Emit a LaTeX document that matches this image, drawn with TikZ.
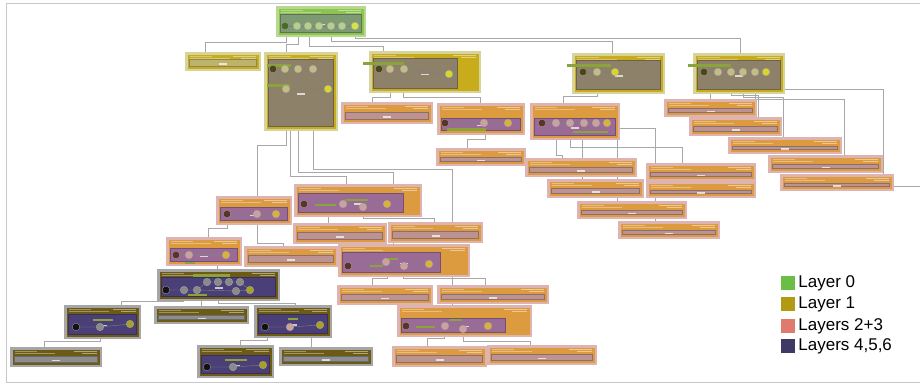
\documentclass[tikz,border=0pt]{standalone}
\usepackage{fontspec}
\setmainfont{Liberation Sans}
\usetikzlibrary{positioning,backgrounds}

\definecolor{gHalo}{HTML}{B7D88E}
\definecolor{gBody}{HTML}{8DC44F}
\definecolor{gPanel}{HTML}{7E9A72}
\definecolor{yHalo}{HTML}{D6D49B}
\definecolor{yBody}{HTML}{C8AC1C}
\definecolor{yPanel}{HTML}{8D8169}
\definecolor{yFlat}{HTML}{BDB36C}
\definecolor{pHalo}{HTML}{DEB3B0}
\definecolor{pBody}{HTML}{DB9B3E}
\definecolor{pFlat}{HTML}{BC9390}
\definecolor{pPurp}{HTML}{9B6B98}
\definecolor{nHalo}{HTML}{A6A6A6}
\definecolor{nBody}{HTML}{6D5B15}
\definecolor{nPanel}{HTML}{4B3F78}
\definecolor{nFlat}{HTML}{8D8D8D}
\definecolor{gDot1}{HTML}{4E6A22}
\definecolor{gDot2}{HTML}{B7CF8A}
\definecolor{gDot3}{HTML}{D6E24C}
\definecolor{yDot1}{HTML}{4C4718}
\definecolor{yDot2}{HTML}{C4BC85}
\definecolor{yDot3}{HTML}{D9D52B}
\definecolor{pDot1}{HTML}{5A3329}
\definecolor{pDot2}{HTML}{CBA19D}
\definecolor{pDot3}{HTML}{D8B23A}
\definecolor{nDot1}{HTML}{121212}
\definecolor{nDot2}{HTML}{8A8A8A}
\definecolor{nDot3}{HTML}{A8A222}
\definecolor{barC}{HTML}{8AA33A}
\definecolor{wireC}{HTML}{A8A8A8}
\definecolor{frameC}{HTML}{C8C8C8}
\definecolor{leg0}{HTML}{6BBE45}
\definecolor{leg1}{HTML}{B29B13}
\definecolor{leg2}{HTML}{E07A6F}
\definecolor{leg3}{HTML}{3E3A65}

\tikzset{
  wire/.style={draw=wireC, line width=.7pt},
  link/.style={draw=black!50, line width=.4pt},
  circ/.style={circle, inner sep=0pt, minimum size=7.6pt, draw=black!35, line width=.3pt},
  gbar/.style={fill=barC},
  key/.style={minimum size=15pt, inner sep=0pt, draw=white},
  keytext/.style={inner sep=0pt, font=\fontsize{17}{19}\selectfont},
}

% name, x1, y1, x2, y2, layer letter, panel colour, panel top, panel right inset
\newcommand{\layerbox}[9]{%
  \node[anchor=north west, inner sep=0pt, outer sep=0pt, fill=#6Halo,
        minimum width={(#4-#2)*1pt}, minimum height={(#5-#3)*1pt}] (#1) at (#2,#3) {};
  \fill[#6Body] (#2+2.5,#3+2.5) rectangle (#4-2.5,#5-2.5);
  \fill[#7, draw=#7!75!black, line width=.5pt] (#2+4.5,#3+#8) rectangle (#4-#9,#5-4.5);
  \fill[white, opacity=.35] (#2+5,#3+3.5) rectangle ++(22,1.2);
  \fill[white, opacity=.35] (#2+5,#3+5.8) rectangle ++(40,1);
  \fill[white, opacity=.45] (#4-28,#3+3.5) rectangle (#4-5,#3+4.8);
  \fill[white, opacity=.45] (#4-20,#3+6) rectangle (#4-5,#3+7.2);
  \fill[white, opacity=.7] ({(#2+#4)/2-4},{(#3+#8+#5)/2-2}) rectangle ++(8,1.6);
}

\begin{document}
\begin{tikzpicture}[x=1pt, y=-1pt]
\useasboundingbox (0,0) rectangle (920,384);

% layer 0
\layerbox{G0}{276}{6}{366}{37}{g}{gPanel}{8}{4.5}
% layer 1
\layerbox{Y1}{185}{52}{261}{71}{y}{yFlat}{7.5}{4.5}
\layerbox{Y2}{264}{52}{338}{131}{y}{yPanel}{7.5}{4.5}
\layerbox{Y3}{369}{51}{481}{93}{y}{yPanel}{7.5}{24}
\layerbox{Y4}{572}{53}{665}{94}{y}{yPanel}{7.5}{4.5}
\layerbox{Y5}{693}{53}{785}{94}{y}{yPanel}{7.5}{4.5}
% layers 2+3
\layerbox{P1}{341}{102}{433}{124}{p}{pFlat}{10}{4.5}
\layerbox{P2}{437}{103}{525}{135}{p}{pPurp}{15}{4.5}
\layerbox{P3}{530}{103}{620}{140}{p}{pPurp}{15}{4.5}
\layerbox{P4}{436}{148}{526}{166}{p}{pFlat}{9}{4.5}
\layerbox{P11}{664}{99}{757}{117}{p}{pFlat}{9}{4.5}
\layerbox{P12}{689}{117}{782}{136}{p}{pFlat}{9}{4.5}
\layerbox{P13}{728}{137}{842}{154}{p}{pFlat}{9}{4.5}
\layerbox{P14}{768}{155}{883}{173}{p}{pFlat}{9}{4.5}
\layerbox{P15}{780}{174}{894}{191}{p}{pFlat}{9}{4.5}
\layerbox{P5}{525}{158}{637}{177}{p}{pFlat}{9}{4.5}
\layerbox{P9}{646}{163}{756}{181}{p}{pFlat}{9}{4.5}
\layerbox{P10}{646}{181}{756}{198}{p}{pFlat}{9}{4.5}
\layerbox{P6}{547}{179}{644}{198}{p}{pFlat}{9}{4.5}
\layerbox{P7}{577}{201}{687}{219}{p}{pFlat}{9}{4.5}
\layerbox{P8}{618}{221}{720}{239}{p}{pFlat}{9}{4.5}
\layerbox{P16}{216}{196}{292}{225}{p}{pPurp}{11}{4.5}
\layerbox{P17}{294}{184}{422}{217}{p}{pPurp}{9}{19}
\layerbox{P18}{293}{223}{387}{244}{p}{pFlat}{9}{4.5}
\layerbox{P19}{388}{222}{483}{243}{p}{pFlat}{9}{4.5}
\layerbox{P20}{166}{237}{242}{266}{p}{pPurp}{11}{4.5}
\layerbox{P21}{244}{246}{338}{267}{p}{pFlat}{9}{4.5}
\layerbox{P22}{338}{244}{470}{277}{p}{pPurp}{8}{30}
\layerbox{P23}{337}{285}{433}{305}{p}{pFlat}{9}{4.5}
\layerbox{P24}{437}{285}{549}{304}{p}{pFlat}{9}{4.5}
\layerbox{P25}{397}{305}{532}{337}{p}{pPurp}{13}{27}
\layerbox{P26}{392}{346}{487}{367}{p}{pFlat}{9}{4.5}
\layerbox{P27}{487}{345}{597}{365}{p}{pFlat}{9}{4.5}
% layers 4,5,6
\layerbox{D1}{157}{269}{280}{301}{n}{nPanel}{8}{4.5}
\layerbox{D2}{64}{305}{141}{339}{n}{nPanel}{9}{4.5}
\layerbox{D3}{154}{306}{249}{324}{n}{nFlat}{9}{4.5}
\layerbox{D4}{254}{305}{332}{338}{n}{nPanel}{9}{4.5}
\layerbox{D5}{10}{347}{102}{367}{n}{nFlat}{9}{4.5}
\layerbox{D6}{197}{345}{274}{378}{n}{nPanel}{10}{4.5}
\layerbox{D7}{279}{347}{373}{366}{n}{nFlat}{9}{4.5}

% edges inside the boxes
\draw[link] (285,26) -- (355,26);
\draw[link] (273,69) -- (313,69) -- (328,89) -- (286,89) -- (273,69);
\draw[link] (379,69) -- (404,69) -- (449,74);
\draw[link] (583,72) -- (615,72);
\draw[link] (704,72) -- (766,72);
\draw[link] (445,123) -- (508,123);
\draw[link] (542,123) -- (607,123);
\draw[link] (227,214) -- (276,214);
\draw[link] (304,204) -- (343,204) -- (363,207) -- (387,204);
\draw[link] (176,255) -- (226,255);
\draw[link] (348,266) -- (386,262) -- (404,266) -- (429,264);
\draw[link] (406,326) -- (445,326) -- (463,329) -- (488,326);
\draw[link] (166,290) -- (197,290) -- (207,282) -- (240,282) -- (250,290) -- (236,291) -- (197,290);
\draw[link] (76,327) -- (100,327) -- (130,324);
\draw[link] (265,327) -- (290,327) -- (320,325);
\draw[link] (207,367) -- (233,367) -- (263,365);

% green labels
\foreach \ax/\ay/\bx/\by in {267/64/291/66.5, 267/84/290/86.5, 363/62/404/65,
  567/64/611/67, 688/64/731/67, 447/128/486/130.5, 573/131/608/133,
  315/204/336/206, 345/199/368/201, 185/262/195/264, 370/265/383/267,
  384/258/398/260, 416/326/435/328, 449/319/462/321, 193/274/230/277,
  188/294/207/296, 93/319/113/321, 288/318/298/320, 225/359/247/361}
  \fill[gbar] (\ax,\ay) rectangle (\bx,\by);

% circles
\foreach \cx/\cy/\cc in {285/26/gDot1, 297/26/gDot2, 308/26/gDot2, 319/26/gDot2,
  331/26/gDot2, 342/26/gDot2, 355/26/gDot3,
  273/69/yDot1, 285/69/yDot2, 298/69/yDot2, 313/69/yDot2, 286/89/yDot2, 328/89/yDot3,
  379/69/yDot1, 390/69/yDot2, 404/69/yDot2, 449/74/yDot3,
  583/72/yDot1, 597/72/yDot2, 615/72/yDot3,
  704/72/yDot1, 718/72/yDot2, 731/72/yDot2, 743/72/yDot2, 755/72/yDot2, 766/72/yDot3,
  445/123/pDot1, 484/123/pDot2, 508/123/pDot3,
  542/123/pDot1, 556/123/pDot2, 570/123/pDot2, 584/123/pDot2, 596/123/pDot2, 607/123/pDot3,
  227/214/pDot1, 257/214/pDot2, 276/214/pDot3,
  304/204/pDot1, 343/204/pDot2, 363/207/pDot2, 387/204/pDot3,
  176/255/pDot1, 189/255/pDot2, 226/255/pDot3,
  348/266/pDot1, 386/262/pDot2, 404/266/pDot2, 429/264/pDot3,
  406/326/pDot1, 445/326/pDot2, 463/329/pDot2, 488/326/pDot3,
  166/290/nDot1, 184/290/nDot2, 197/290/nDot2, 207/282/nDot2, 218/282/nDot2,
  229/282/nDot2, 240/282/nDot2, 236/291/nDot2, 250/290/nDot3,
  76/327/nDot1, 100/327/nDot2, 130/324/nDot3,
  265/327/nDot1, 290/327/pDot2, 320/325/nDot3,
  207/367/nDot1, 233/367/nDot2, 263/365/nDot3}
  \node[circ, fill=\cc] at (\cx,\cy) {};

% legend
\node[key, fill=leg0] (k0) at (787.5,283) {};
\node[keytext, right=3pt of k0] {Layer 0};
\node[key, fill=leg1] (k1) at (787.5,304) {};
\node[keytext, right=3pt of k1] {Layer 1};
\node[key, fill=leg2] (k2) at (787.5,326) {};
\node[keytext, right=3pt of k2] {Layers 2+3};
\node[key, fill=leg3] (k3) at (787.5,346) {};
\node[keytext, right=3pt of k3] {Layers 4,5,6};

\coordinate (out) at (920,186);

\begin{scope}[on background layer]
  \draw[draw=frameC, line width=1.2pt] (920,3.5) -- (6.5,3.5) -- (6.5,382.5) -- (920,382.5);
  % from layer 0
  \draw[wire] (G0.south -| 286,0) -- ++(0,5) -| (Y1.north -| 205,0);
  \draw[wire] (G0.south -| 298,0) -- ++(0,7) -| (Y2.north -| 286,0);
  \draw[wire] (G0.south -| 309,0) -- ++(0,9) -| (Y3.north -| 383,0);
  \draw[wire] (G0.south -| 331,0) -- ++(0,4) -| (Y4.north -| 612,0);
  \draw[wire] (G0.south -| 355,0) -- ++(0,1) -| (Y5.north -| 740,0);
  % from layer 1
  \draw[wire] (Y3.south -| 390,0) -- ++(0,4) -| (P1.north -| 372,0);
  \draw[wire] (Y3.south -| 403,0) -- ++(0,4) -| (P2.north -| 480,0);
  \draw[wire] (Y4.south -| 597,0) -- ++(0,2) -| (P3.north -| 563,0);
  \draw[wire] (Y5.south -| 710,0) -- (P11.north -| 710,0);
  \draw[wire] (Y5.south -| 731,0) -- ++(0,1) -| (P12.north -| 758,0);
  \draw[wire] (Y5.south -| 743,0) -- ++(0,3) -| (P13.north -| 783,0);
  \draw[wire] (Y5.south -| 755,0) -- ++(0,5) -| (P14.north -| 844,0);
  \draw[wire] (Y5.east |- 0,89) -| (P15.north -| 883,0);
  \draw[wire] (P15.east |- 0,186) -- (out);
  \draw[wire] (Y2.south -| 286,0) -- ++(0,14) -| (P16.north -| 257,0);
  \draw[wire] (Y2.south -| 290,0) -- ++(0,45) -| (P17.north -| 346,0);
  \draw[wire] (Y2.south -| 298,0) -- ++(0,41) -| (P17.north -| 393,0);
  \draw[wire] (Y2.south -| 313,0) -- ++(0,38) -| (P19.north -| 452,0);
  % from layers 2+3
  \draw[wire] (P2.south -| 485,0) -- ++(0,4) -| (P4.north -| 467,0);
  \draw[wire] (P3.south -| 556,0) -- ++(0,15) -| (P5.north -| 562,0);
  \draw[wire] (P3.south -| 570,0) -- ++(0,7) -| (P9.north -| 682,0);
  \draw[wire] (P3.south -| 582,0) -- (P6.north -| 582,0);
  \draw[wire] (P3.south -| 617,0) -- (P7.north -| 617,0);
  \draw[wire] (P3.east |- 0,128) -| (P8.north -| 655,0);
  \draw[wire] (P16.south -| 227,0) -- ++(0,3) -| (P20.north -| 208,0);
  \draw[wire] (P16.south -| 257,0) -- ++(0,18) -| (P21.north -| 283,0);
  \draw[wire] (P17.south -| 328,0) -- (P18.north -| 328,0);
  \draw[wire] (P17.south -| 363,0) -- ++(0,1) -| (P19.north -| 434,0);
  \draw[wire] (P19.south -| 393,0) -- (P22.north -| 393,0);
  \draw[wire] (P20.south -| 217,0) -- (D1.north -| 217,0);
  \draw[wire] (P22.south -| 387,0) -- ++(0,1) -| (P23.north -| 372,0);
  \draw[wire] (P22.south -| 403,0) -- ++(0,1) -| (P24.north -| 485,0);
  \draw[wire] (P22.south -| 452,0) -- (P25.north -| 452,0);
  \draw[wire] (P25.south -| 444,0) -- ++(0,1) -| (P26.north -| 427,0);
  \draw[wire] (P25.south -| 463,0) -- ++(0,4) -| (P27.north -| 530,0);
  % from layers 4,5,6
  \draw[wire] (D1.south -| 184,0) -| (D2.north -| 121,0);
  \draw[wire] (D1.south -| 201,0) -- (D3.north -| 201,0);
  \draw[wire] (D1.south -| 218,0) -- ++(0,2) -| (D4.north -| 295,0);
  \draw[wire] (D2.south -| 100,0) -- ++(0,2) -| (D5.north -| 44,0);
  \draw[wire] (D4.south -| 267,0) -- ++(0,2) -| (D6.north -| 240,0);
  \draw[wire] (D4.south -| 311,0) -- (D7.north -| 311,0);
\end{scope}
\end{tikzpicture}
\end{document}
